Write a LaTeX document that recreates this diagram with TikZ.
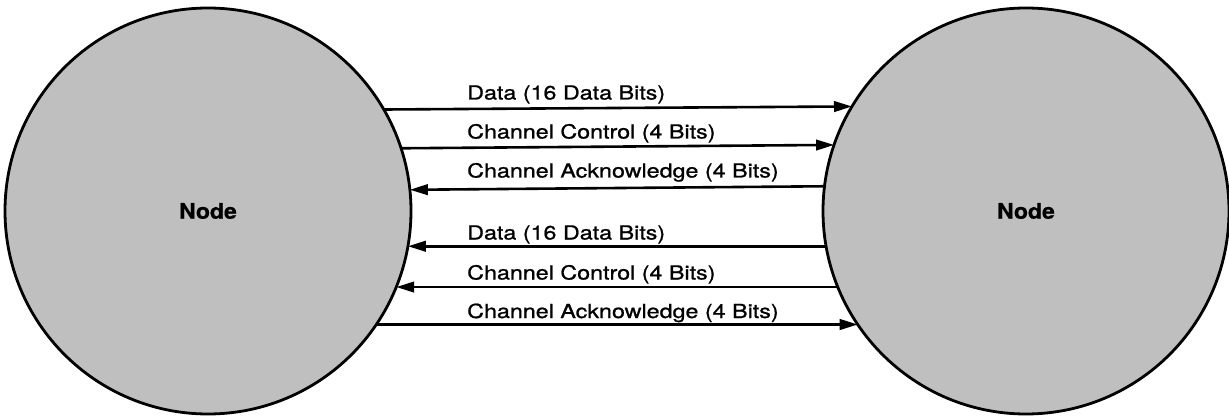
\documentclass[tikz,border=0pt]{standalone}
\usepackage{fontspec}
\setmainfont{TeX Gyre Heros}
\newfontfamily\lblfont{TeX Gyre Heros}[FakeStretch=1.2, FakeBold=1]
\newfontfamily\namefont{TeX Gyre Heros Bold}[FakeStretch=1.07, FakeBold=0.6]
\usetikzlibrary{arrows.meta}
\tikzset{
  station/.style={circle, draw=black, line width=2.8pt, fill=black!25,
    minimum size=406pt, inner sep=0pt, outer sep=0pt,
    font=\namefont\fontsize{21.5}{26}\selectfont},
  link/.style={line width=2.6pt},
  tip/.style={-{Triangle[length=18pt,width=10.5pt]}},
  lbl/.style={anchor=base west, inner sep=0pt,
    font=\lblfont\fontsize{19.4}{23}\selectfont}
}
\begin{document}
\begin{tikzpicture}[x=1pt, y=-1pt]
  \useasboundingbox (0,0) rectangle (1229,417);
  % the two communicating nodes
  \node[station] (L) at (208,211) {Node};
  \node[station] (R) at (1026,211) {Node};
  % first link: left node to right node
  \draw[link, tip] (L.30.16) -- (R.149.84);
  \draw[link, tip] (L.18.08) -- (R.161.92);
  \draw[link, tip] (R.173.21) -- (L.6.79);
  % second link: right node to left node
  \draw[link, tip] (R.190.79) -- (L.-10.79);
  \draw[link, tip] (R.202.60) -- (L.-22.60);
  \draw[link, tip] (L.-34.85) -- (R.214.85);
  % signal labels
  \node[lbl] (t1) at (467,99.5) {Data (16 Data Bits)};
  \node[lbl] (t2) at (467,138.5) {Channel Control (4 Bits)};
  \node[lbl] (t3) at (467,177.5) {Channel Acknowledge (4 Bits)};
  \node[lbl] (t4) at (467,239.5) {Data (16 Data Bits)};
  \node[lbl] (t5) at (467,279.5) {Channel Control (4 Bits)};
  \node[lbl] (t6) at (467,318) {Channel Acknowledge (4 Bits)};
\end{tikzpicture}
\end{document}
